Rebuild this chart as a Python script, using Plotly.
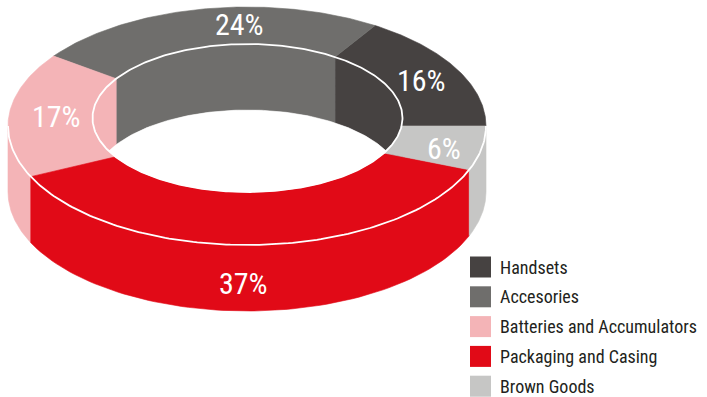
import numpy as np
import plotly.graph_objects as go

# --- data -------------------------------------------------------------
categories = ["Handsets", "Accesories", "Batteries and Accumulators",
              "Packaging and Casing", "Brown Goods"]
shares = [16, 24, 17, 37, 6]
colors = ["#464241", "#6f6e6c", "#f4b4b7", "#e10a17", "#c6c6c5"]

# text placement for the percentage labels (x, y in canvas units)
label_pos = [(421, 80), (239, 24), (56, 116), (243, 283), (444, 148)]

# --- ring geometry (canvas units, y grows downward) -------------------
W, H_FIG = 707, 397
CX, CY_OUT, RX_OUT, RY_OUT = 247.0, 126.0, 239.0, 119.0
CX_IN, CY_IN, RX_IN, RY_IN = 247.5, 118.0, 155.0, 74.0
DEPTH = 66.0
LABEL_FONT = "Liberation Sans Narrow, Roboto Condensed, Arial Narrow, Roboto, sans-serif"


def outer_pt(theta_deg):
    t = np.radians(theta_deg)
    return CX + RX_OUT * np.cos(t), CY_OUT - RY_OUT * np.sin(t)


def inner_pt(phi_deg):
    p = np.radians(phi_deg)
    return CX_IN + RX_IN * np.cos(p), CY_IN - RY_IN * np.sin(p)


def inner_angle(theta_deg):
    """Angle on the inner ellipse hit by the ray from the ring centre
    towards the outer-edge point at theta."""
    ox, oy = outer_pt(theta_deg)
    dx, dy = ox - CX, oy - CY_OUT
    px, py = CX - CX_IN, CY_OUT - CY_IN
    a = (dx / RX_IN) ** 2 + (dy / RY_IN) ** 2
    b = 2 * (px * dx / RX_IN ** 2 + py * dy / RY_IN ** 2)
    c = (px / RX_IN) ** 2 + (py / RY_IN) ** 2 - 1
    t = (-b + np.sqrt(b * b - 4 * a * c)) / (2 * a)
    x, y = CX + t * dx, CY_OUT + t * dy
    phi = np.degrees(np.arctan2(-(y - CY_IN) / RY_IN, (x - CX_IN) / RX_IN))
    # unwrap close to theta
    while phi - theta_deg > 180:
        phi -= 360
    while theta_deg - phi > 180:
        phi += 360
    return phi


def clip(a, b, lo, hi):
    s, e = max(a, lo), min(b, hi)
    return (s, e) if e > s else None


def poly(xs, ys, color):
    return go.Scatter(x=list(xs) + [xs[0]], y=list(ys) + [ys[0]], mode="lines",
                      fill="toself", fillcolor=color,
                      line=dict(color=color, width=0.6),
                      hoverinfo="skip", showlegend=False)


# cumulative angles, counter-clockwise from 3 o'clock
bounds = np.concatenate([[0], np.cumsum(shares) / sum(shares) * 360])

fig = go.Figure()

# outer side wall (front half only)
for i, col in enumerate(colors):
    seg = clip(bounds[i], bounds[i + 1], 180, 360)
    if seg is None:
        continue
    th = np.linspace(seg[0], seg[1], 80)
    x, y = outer_pt(th)
    xs = np.concatenate([x, x[::-1]])
    ys = np.concatenate([y, (y + DEPTH)[::-1]])
    fig.add_trace(poly(xs, ys, col))

# inner wall seen through the hole (back half only)
for i, col in enumerate(colors):
    pa, pb = inner_angle(bounds[i]), inner_angle(bounds[i + 1])
    for k in (-360, 0, 360):
        seg = clip(pa, pb, k, k + 180)
        if seg is None:
            continue
        ph = np.linspace(seg[0], seg[1], 80)
        x, y = inner_pt(ph)
        xs = np.concatenate([x, x[::-1]])
        ys = np.concatenate([y, (y + DEPTH)[::-1]])
        fig.add_trace(poly(xs, ys, col))

# top face of each slice
for i, col in enumerate(colors):
    th = np.linspace(bounds[i], bounds[i + 1], 120)
    ox, oy = outer_pt(th)
    ph = np.linspace(inner_angle(bounds[i + 1]), inner_angle(bounds[i]), 120)
    ix, iy = inner_pt(ph)
    fig.add_trace(poly(np.concatenate([ox, ix]), np.concatenate([oy, iy]), col))

# open hole: overlap of the inner rim and the same rim lowered by DEPTH
p0 = np.degrees(np.arcsin(DEPTH / (2 * RY_IN)))
ph_up = np.linspace(p0, 180 - p0, 120)
ux, uy = inner_pt(ph_up)
uy = uy + DEPTH
ph_lo = np.linspace(180 + p0, 360 - p0, 120)
lx, ly = inner_pt(ph_lo)
fig.add_trace(poly(np.concatenate([ux, lx]), np.concatenate([uy, ly]), "#ffffff"))

# white rim lines
ph_all = np.linspace(0, 360, 361)
rx, ry = inner_pt(ph_all)
fig.add_trace(go.Scatter(x=rx, y=ry, mode="lines", line=dict(color="white", width=1.8),
                         hoverinfo="skip", showlegend=False))
th_front = np.linspace(180, 360, 181)
fx, fy = outer_pt(th_front)
fig.add_trace(go.Scatter(x=fx, y=fy, mode="lines", line=dict(color="white", width=1.8),
                         hoverinfo="skip", showlegend=False))

# percentage labels
annotations = []
for v, (lx_, ly_) in zip(shares, label_pos):
    annotations.append(dict(x=lx_, y=ly_, text=f"{v}%", showarrow=False,
                            xanchor="center", yanchor="middle",
                            font=dict(family=LABEL_FONT, size=30, color="white")))

# legend: swatches + names
LEG_X, LEG_Y0, LEG_STEP = 480.5, 267.0, 29.8
leg_y = [LEG_Y0 + k * LEG_STEP for k in range(len(categories))]
fig.add_trace(go.Scatter(x=[LEG_X] * len(categories), y=leg_y, mode="markers",
                         marker=dict(symbol="square", size=21, color=colors, line=dict(width=0)),
                         hoverinfo="skip", showlegend=False))
for name, yy in zip(categories, leg_y):
    annotations.append(dict(x=498, y=yy, text=name, showarrow=False,
                            xanchor="left", yanchor="middle",
                            font=dict(family=LABEL_FONT, size=18, color="#231f20")))

fig.update_layout(
    width=W, height=H_FIG,
    margin=dict(l=0, r=0, t=0, b=0),
    paper_bgcolor="white", plot_bgcolor="white",
    xaxis=dict(range=[0, W], visible=False, fixedrange=True),
    yaxis=dict(range=[H_FIG, 0], visible=False, fixedrange=True),
    annotations=annotations,
    showlegend=False,
)

fig.write_html("out.html")
